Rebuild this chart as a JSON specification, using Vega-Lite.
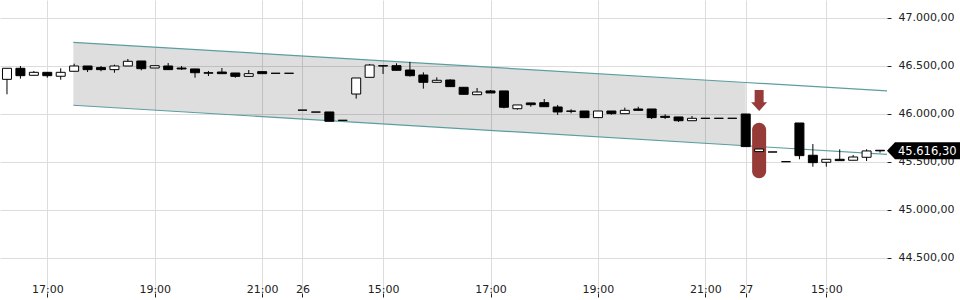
{
  "$schema": "https://vega.github.io/schema/vega-lite/v6.json",
  "width": 887,
  "height": 293,
  "autosize": {"type": "none"},
  "padding": {"left": 0, "top": 0, "right": 73, "bottom": 7},
  "config": {"font": "DejaVu Sans", "view": {"stroke": null}},
  "datasets": {
    "candles": [
      {"i": 0, "o": 46361, "h": 46476, "l": 46205, "c": 46476},
      {"i": 1, "o": 46476, "h": 46500, "l": 46368, "c": 46399},
      {"i": 2, "o": 46403, "h": 46448, "l": 46403, "c": 46434},
      {"i": 3, "o": 46434, "h": 46434, "l": 46378, "c": 46399},
      {"i": 4, "o": 46393, "h": 46476, "l": 46357, "c": 46434},
      {"i": 5, "o": 46445, "h": 46524, "l": 46445, "c": 46500},
      {"i": 6, "o": 46500, "h": 46500, "l": 46437, "c": 46462},
      {"i": 7, "o": 46483, "h": 46500, "l": 46445, "c": 46462},
      {"i": 8, "o": 46462, "h": 46514, "l": 46430, "c": 46500},
      {"i": 9, "o": 46500, "h": 46573, "l": 46500, "c": 46549},
      {"i": 10, "o": 46552, "h": 46552, "l": 46455, "c": 46472},
      {"i": 11, "o": 46479, "h": 46503, "l": 46479, "c": 46503},
      {"i": 12, "o": 46500, "h": 46531, "l": 46462, "c": 46462},
      {"i": 13, "o": 46479, "h": 46500, "l": 46458, "c": 46469},
      {"i": 14, "o": 46469, "h": 46469, "l": 46378, "c": 46430},
      {"i": 15, "o": 46430, "h": 46448, "l": 46396, "c": 46425},
      {"i": 16, "o": 46437, "h": 46479, "l": 46420, "c": 46420},
      {"i": 17, "o": 46427, "h": 46427, "l": 46378, "c": 46392},
      {"i": 18, "o": 46392, "h": 46458, "l": 46392, "c": 46420},
      {"i": 19, "o": 46441, "h": 46441, "l": 46420, "c": 46420},
      {"i": 20, "o": 46424, "h": 46424, "l": 46424, "c": 46424},
      {"i": 21, "o": 46424, "h": 46424, "l": 46424, "c": 46424},
      {"i": 22, "o": 46040, "h": 46040, "l": 46040, "c": 46040},
      {"i": 23, "o": 46020, "h": 46020, "l": 46020, "c": 46020},
      {"i": 24, "o": 46021, "h": 46021, "l": 45924, "c": 45924},
      {"i": 25, "o": 45934, "h": 45934, "l": 45934, "c": 45934},
      {"i": 26, "o": 46208, "h": 46375, "l": 46160, "c": 46375},
      {"i": 27, "o": 46382, "h": 46521, "l": 46382, "c": 46510},
      {"i": 28, "o": 46503, "h": 46503, "l": 46417, "c": 46500},
      {"i": 29, "o": 46503, "h": 46528, "l": 46455, "c": 46455},
      {"i": 30, "o": 46458, "h": 46542, "l": 46390, "c": 46399},
      {"i": 31, "o": 46406, "h": 46434, "l": 46264, "c": 46330},
      {"i": 32, "o": 46330, "h": 46382, "l": 46330, "c": 46351},
      {"i": 33, "o": 46354, "h": 46361, "l": 46285, "c": 46285},
      {"i": 34, "o": 46278, "h": 46278, "l": 46205, "c": 46205},
      {"i": 35, "o": 46201, "h": 46271, "l": 46201, "c": 46229},
      {"i": 36, "o": 46240, "h": 46250, "l": 46219, "c": 46219},
      {"i": 37, "o": 46240, "h": 46240, "l": 46059, "c": 46070},
      {"i": 38, "o": 46055, "h": 46094, "l": 46045, "c": 46094},
      {"i": 39, "o": 46115, "h": 46115, "l": 46076, "c": 46097},
      {"i": 40, "o": 46118, "h": 46156, "l": 46076, "c": 46076},
      {"i": 41, "o": 46073, "h": 46094, "l": 45990, "c": 46021},
      {"i": 42, "o": 46031, "h": 46049, "l": 46007, "c": 46028},
      {"i": 43, "o": 46031, "h": 46031, "l": 45962, "c": 45962},
      {"i": 44, "o": 45962, "h": 46031, "l": 45962, "c": 46031},
      {"i": 45, "o": 46031, "h": 46031, "l": 45993, "c": 46003},
      {"i": 46, "o": 46003, "h": 46066, "l": 46003, "c": 46038},
      {"i": 47, "o": 46052, "h": 46076, "l": 46038, "c": 46038},
      {"i": 48, "o": 46052, "h": 46052, "l": 45948, "c": 45962},
      {"i": 49, "o": 45976, "h": 45997, "l": 45948, "c": 45965},
      {"i": 50, "o": 45969, "h": 45969, "l": 45917, "c": 45930},
      {"i": 51, "o": 45930, "h": 45979, "l": 45930, "c": 45955},
      {"i": 52, "o": 45955, "h": 45955, "l": 45955, "c": 45955},
      {"i": 53, "o": 45955, "h": 45955, "l": 45955, "c": 45955},
      {"i": 54, "o": 45955, "h": 45955, "l": 45955, "c": 45955},
      {"i": 55, "o": 46000, "h": 46000, "l": 45660, "c": 45660},
      {"i": 56, "o": 45608, "h": 45635, "l": 45608, "c": 45635},
      {"i": 57, "o": 45604, "h": 45604, "l": 45604, "c": 45604},
      {"i": 58, "o": 45503, "h": 45503, "l": 45503, "c": 45503},
      {"i": 59, "o": 45906, "h": 45906, "l": 45528, "c": 45566},
      {"i": 60, "o": 45570, "h": 45687, "l": 45451, "c": 45493},
      {"i": 61, "o": 45497, "h": 45528, "l": 45451, "c": 45528},
      {"i": 62, "o": 45528, "h": 45632, "l": 45514, "c": 45514},
      {"i": 63, "o": 45518, "h": 45573, "l": 45518, "c": 45552},
      {"i": 64, "o": 45549, "h": 45632, "l": 45510, "c": 45615},
      {"i": 65, "o": 45622, "h": 45622, "l": 45597, "c": 45616.3}
    ],
    "channel": [
      {"i": 4.94, "up": 46747, "lo": 46091},
      {"i": 55, "up": 46328, "lo": 45669},
      {"i": 65.52, "up": 46240, "lo": 45580}
    ],
    "marker": [
      {"i": 56, "top": 45908, "bottom": 45330, "arrow": 46141}
    ],
    "last": [
      {"i": 65.52, "v": 45616.3, "label": "45.616,30"}
    ]
  },
  "layer": [
    {
      "data": {"name": "channel"},
      "transform": [{"filter": "datum.i <= 55"}],
      "mark": {"type": "area", "fill": "#000000", "fillOpacity": 0.13},
      "encoding": {
        "x": {
          "field": "i", "type": "quantitative", "title": null,
          "scale": {"domain": [-0.52, 65.52], "nice": false, "zero": false, "padding": 0},
          "axis": {
            "values": [3, 11, 19, 22, 28, 36, 44, 52, 55, 61],
            "labelExpr": "['17:00','19:00','21:00','26','15:00','17:00','19:00','21:00','27','15:00'][indexof([3,11,19,22,28,36,44,52,55,61], datum.value)]",
            "grid": true, "gridColor": "#dcdcdc", "gridWidth": 1,
            "domain": false, "ticks": true, "tickSize": 4, "tickColor": "#222222",
            "labelPadding": -5, "labelBaseline": "alphabetic",
            "labelFontSize": 11, "labelColor": "#222222",
            "labelFlush": false, "labelOverlap": false
          }
        },
        "y": {
          "field": "up", "type": "quantitative", "title": null,
          "scale": {"domain": [44135, 47187.5], "nice": false, "zero": false, "padding": 0},
          "axis": {
            "orient": "right",
            "values": [44500, 45000, 45500, 46000, 46500, 47000],
            "labelExpr": "replace(replace(replace(format(datum.value, ',.2f'), ',', '#'), '.', ','), '#', '.')",
            "grid": true, "gridColor": "#dcdcdc", "gridWidth": 1,
            "domain": false, "ticks": true, "tickSize": 4, "tickColor": "#222222",
            "labelPadding": 7, "labelFontSize": 11, "labelColor": "#222222",
            "labelFlush": false, "labelOverlap": false
          }
        },
        "y2": {"field": "lo"}
      }
    },
    {
      "data": {"name": "channel"},
      "mark": {"type": "line", "color": "#5b9ea0", "strokeWidth": 1.2},
      "encoding": {
        "x": {"field": "i", "type": "quantitative", "title": null},
        "y": {"field": "up", "type": "quantitative", "title": null}
      }
    },
    {
      "data": {"name": "channel"},
      "mark": {"type": "line", "color": "#5b9ea0", "strokeWidth": 1.2},
      "encoding": {
        "x": {"field": "i", "type": "quantitative", "title": null},
        "y": {"field": "lo", "type": "quantitative", "title": null}
      }
    },
    {
      "data": {"name": "marker"},
      "mark": {"type": "bar", "size": 14, "cornerRadius": 7, "color": "#963b37"},
      "encoding": {
        "x": {"field": "i", "type": "quantitative", "title": null},
        "y": {"field": "top", "type": "quantitative", "title": null},
        "y2": {"field": "bottom"}
      }
    },
    {
      "data": {"name": "marker"},
      "mark": {
        "type": "point", "filled": true, "size": 4, "color": "#963b37", "opacity": 1, "strokeWidth": 0,
        "shape": "M-4.5,-10.5 L4.5,-10.5 L4.5,1.8 L8,1.8 L0,10.5 L-8,1.8 L-4.5,1.8 Z"
      },
      "encoding": {
        "x": {"field": "i", "type": "quantitative", "title": null},
        "y": {"field": "arrow", "type": "quantitative", "title": null}
      }
    },
    {
      "data": {"name": "candles"},
      "mark": {"type": "rule", "color": "#000000", "strokeWidth": 1},
      "encoding": {
        "x": {"field": "i", "type": "quantitative", "title": null},
        "y": {"field": "l", "type": "quantitative", "title": null},
        "y2": {"field": "h"}
      }
    },
    {
      "data": {"name": "candles"},
      "mark": {"type": "bar", "size": 9, "stroke": "#000000", "strokeWidth": 1},
      "encoding": {
        "x": {"field": "i", "type": "quantitative", "title": null},
        "y": {"field": "o", "type": "quantitative", "title": null},
        "y2": {"field": "c"},
        "fill": {"condition": {"test": "datum.c > datum.o", "value": "#ffffff"}, "value": "#000000"}
      }
    },
    {
      "data": {"name": "last"},
      "mark": {
        "type": "point", "filled": true, "size": 4, "color": "#000000", "opacity": 1, "strokeWidth": 0,
        "shape": "M0,0 L8,-8.5 L73,-8.5 L73,8.5 L8,8.5 Z"
      },
      "encoding": {
        "x": {"field": "i", "type": "quantitative", "title": null},
        "y": {"field": "v", "type": "quantitative", "title": null}
      }
    },
    {
      "data": {"name": "last"},
      "mark": {"type": "text", "align": "left", "baseline": "middle", "dx": 11, "dy": 1, "fontSize": 11.5, "color": "#ffffff"},
      "encoding": {
        "x": {"field": "i", "type": "quantitative", "title": null},
        "y": {"field": "v", "type": "quantitative", "title": null},
        "text": {"field": "label"}
      }
    }
  ]
}
